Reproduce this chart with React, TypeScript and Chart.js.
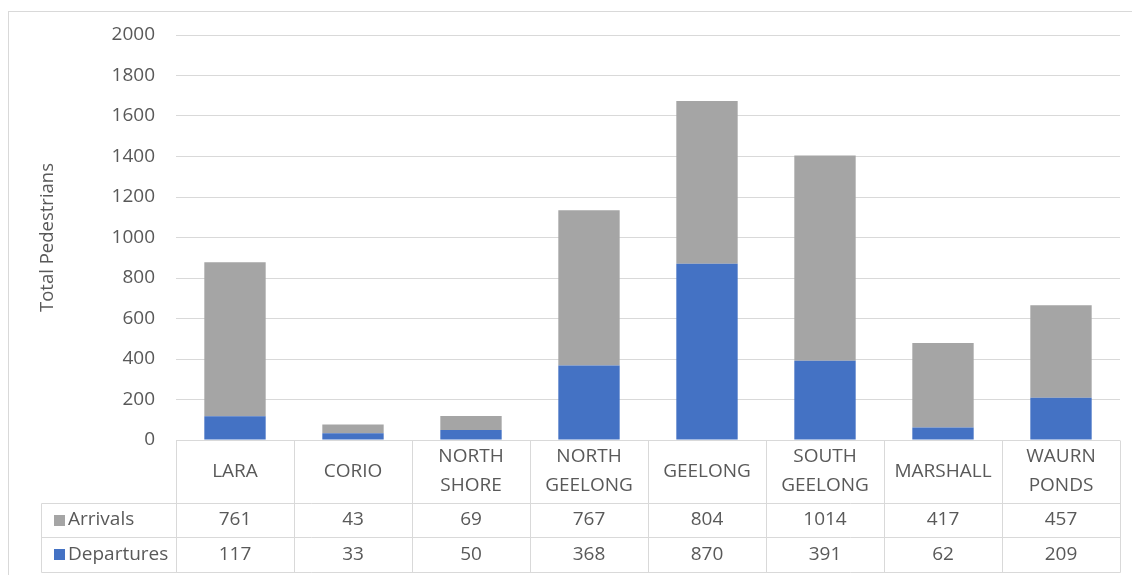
import React, { useEffect, useRef } from "react";
import { Chart, registerables } from "chart.js";

Chart.register(...registerables);

const CATEGORIES: string[][] = [
  ["LARA"],
  ["CORIO"],
  ["NORTH", "SHORE"],
  ["NORTH", "GEELONG"],
  ["GEELONG"],
  ["SOUTH", "GEELONG"],
  ["MARSHALL"],
  ["WAURN", "PONDS"],
];
const ARRIVALS = [761, 43, 69, 767, 804, 1014, 417, 457];
const DEPARTURES = [117, 33, 50, 368, 870, 391, 62, 209];
const Y_TITLE = "Total Pedestrians";

const BLUE = "#4472C4";
const GRAY = "#A5A5A5";
const LINE = "#D9D9D9";
const TEXT = "#595959";
const FONT = '"Open Sans", "Noto Sans", sans-serif';

const HEADER_H = 63;
const ROW_H = 34;
const ROW2_H = 35;

const tablePlugin = {
  id: "dataTable",
  afterDraw(chart: any) {
    const { ctx, chartArea } = chart;
    const xs = chart.scales.x;
    const n = CATEGORIES.length;
    const left = chartArea.left;
    const right = chartArea.right;
    const colW = (right - left) / n;
    const top = chartArea.bottom;
    const r1 = top + HEADER_H;
    const r2 = r1 + ROW_H;
    const r3 = r2 + ROW2_H;
    const legendLeft = 32;
    const a = (v: number) => Math.round(v) + 0.5;

    ctx.save();
    ctx.strokeStyle = LINE;
    ctx.lineWidth = 1;
    ctx.beginPath();
    for (let i = 0; i <= n; i++) {
      const vx = a(left + i * colW);
      ctx.moveTo(vx, a(top));
      ctx.lineTo(vx, a(r3));
    }
    ctx.moveTo(a(legendLeft), a(r1));
    ctx.lineTo(a(legendLeft), a(r3));
    [r1, r2, r3].forEach((ry) => {
      ctx.moveTo(a(legendLeft), a(ry));
      ctx.lineTo(a(right), a(ry));
    });
    ctx.stroke();

    ctx.fillStyle = TEXT;
    ctx.font = `19px ${FONT}`;
    ctx.textAlign = "center";
    ctx.textBaseline = "middle";
    const headMid = top + HEADER_H / 2;
    const lh = 29;
    CATEGORIES.forEach((lines, i) => {
      const cx = xs.getPixelForValue(i);
      const start = headMid - ((lines.length - 1) * lh) / 2;
      lines.forEach((ln, j) => ctx.fillText(ln, cx, start + j * lh));
      ctx.fillText(String(ARRIVALS[i]), cx, r1 + ROW_H / 2);
      ctx.fillText(String(DEPARTURES[i]), cx, r2 + ROW2_H / 2);
    });

    const rows = [
      { label: "Arrivals", color: GRAY, mid: r1 + ROW_H / 2 },
      { label: "Departures", color: BLUE, mid: r2 + ROW2_H / 2 },
    ];
    rows.forEach((r) => {
      ctx.fillStyle = r.color;
      ctx.fillRect(legendLeft + 13, Math.round(r.mid - 5.5), 11, 11);
      ctx.fillStyle = TEXT;
      ctx.textAlign = "left";
      ctx.fillText(r.label, legendLeft + 27, r.mid);
    });
    ctx.restore();
  },
};

export default function App() {
  const ref = useRef<HTMLCanvasElement | null>(null);

  useEffect(() => {
    if (!ref.current) return;
    const chart = new Chart(ref.current, {
      type: "bar",
      data: {
        labels: CATEGORIES,
        datasets: [
          {
            label: "Departures",
            data: DEPARTURES,
            backgroundColor: BLUE,
            barPercentage: 0.52,
            categoryPercentage: 1,
          },
          {
            label: "Arrivals",
            data: ARRIVALS,
            backgroundColor: GRAY,
            barPercentage: 0.52,
            categoryPercentage: 1,
          },
        ],
      },
      options: {
        animation: false,
        responsive: true,
        maintainAspectRatio: false,
        layout: { padding: { top: 23, right: 12, bottom: 2, left: 0 } },
        plugins: {
          legend: { display: false },
          tooltip: { enabled: false },
        },
        scales: {
          x: {
            stacked: true,
            grid: { display: false },
            border: { display: false },
            ticks: { display: false },
            afterFit: (s: any) => {
              s.height = HEADER_H + ROW_H + ROW2_H + 1;
            },
          },
          y: {
            stacked: true,
            min: 0,
            max: 2000,
            ticks: {
              stepSize: 200,
              padding: 21,
              color: TEXT,
              font: { family: FONT, size: 19 },
              callback: (v: any) => String(v),
            },
            grid: { color: LINE, drawTicks: false, lineWidth: 1 },
            border: { display: false },
            title: {
              display: true,
              text: Y_TITLE,
              color: TEXT,
              font: { family: FONT, size: 18.5 },
              padding: { top: 28, bottom: 0 },
            },
            afterFit: (s: any) => {
              s.width = 167;
              s.paddingTop = 0;
              s.paddingBottom = 0;
            },
          },
        },
      },
      plugins: [tablePlugin],
    });
    return () => chart.destroy();
  }, []);

  return (
    <div
      style={{
        position: "fixed",
        left: 8,
        top: 11,
        width: 1123,
        height: 563,
        borderTop: `1px solid ${LINE}`,
        borderLeft: `1px solid ${LINE}`,
        background: "#fff",
      }}
    >
      <canvas ref={ref} />
    </div>
  );
}
